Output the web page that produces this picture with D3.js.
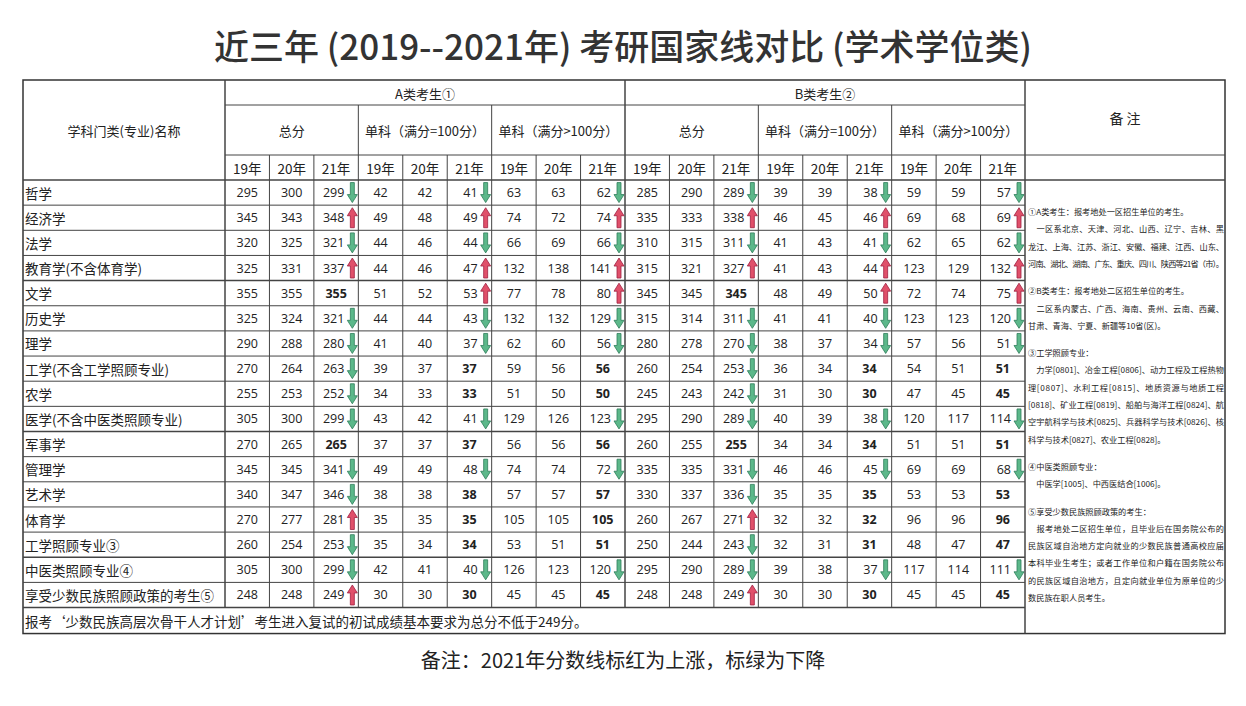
<!DOCTYPE html>
<html><head><meta charset="utf-8">
<script src="https://cdn.jsdelivr.net/npm/d3@7"></script>
<style>body{margin:0;background:#fff}</style></head>
<body><svg id="c" width="1246" height="706"></svg>
<script>
const categories=["哲学","经济学","法学","教育学(不含体育学)","文学","历史学","理学","工学(不含工学照顾专业)","农学","医学(不含中医类照顾专业)","军事学","管理学","艺术学","体育学","工学照顾专业③","中医类照顾专业④","享受少数民族照顾政策的考生⑤"];
const years=["19年","20年","21年"];
const aTotal=[[295,300,299],[345,343,348],[320,325,321],[325,331,337],[355,355,355],[325,324,321],[290,288,280],[270,264,263],[255,253,252],[305,300,299],[270,265,265],[345,345,341],[340,347,346],[270,277,281],[260,254,253],[305,300,299],[248,248,249]];
const aS100=[[42,42,41],[49,48,49],[44,46,44],[44,46,47],[51,52,53],[44,44,43],[41,40,37],[39,37,37],[34,33,33],[43,42,41],[37,37,37],[49,49,48],[38,38,38],[35,35,35],[35,34,34],[42,41,40],[30,30,30]];
const aSgt100=[[63,63,62],[74,72,74],[66,69,66],[132,138,141],[77,78,80],[132,132,129],[62,60,56],[59,56,56],[51,50,50],[129,126,123],[56,56,56],[74,74,72],[57,57,57],[105,105,105],[53,51,51],[126,123,120],[45,45,45]];
const bTotal=[[285,290,289],[335,333,338],[310,315,311],[315,321,327],[345,345,345],[315,314,311],[280,278,270],[260,254,253],[245,243,242],[295,290,289],[260,255,255],[335,335,331],[330,337,336],[260,267,271],[250,244,243],[295,290,289],[248,248,249]];
const bS100=[[39,39,38],[46,45,46],[41,43,41],[41,43,44],[48,49,50],[41,41,40],[38,37,34],[36,34,34],[31,30,30],[40,39,38],[34,34,34],[46,46,45],[35,35,35],[32,32,32],[32,31,31],[39,38,37],[30,30,30]];
const bSgt100=[[59,59,57],[69,68,69],[62,65,62],[123,129,132],[72,74,75],[123,123,120],[57,56,51],[54,51,51],[47,45,45],[120,117,114],[51,51,51],[69,69,68],[53,53,53],[96,96,96],[48,47,47],[117,114,111],[45,45,45]];
const groups=[aTotal,aS100,aSgt100,bTotal,bS100,bSgt100];
const groupLabels=["总分","单科（满分=100分）","单科（满分>100分）","总分","单科（满分=100分）","单科（满分>100分）"];
const classLabels=["A类考生①","B类考生②"];
const title="近三年 (2019--2021年) 考研国家线对比 (学术学位类)";
const footerRow="报考‘少数民族高层次骨干人才计划’考生进入复试的初试成绩基本要求为总分不低于249分。";
const bottomNote="备注：2021年分数线标红为上涨，标绿为下降";
// [text, kind]: 0 = short line, 1 = gap, 2 = full-width line
const notes=[["①A类考生：报考地处一区招生单位的考生。",0],["　一区系北京、天津、河北、山西、辽宁、吉林、黑",2],["龙江、上海、江苏、浙江、安徽、福建、江西、山东、",2],["河南、湖北、湖南、广东、重庆、四川、陕西等21省（市）。",2],["",1],["②B类考生：报考地处二区招生单位的考生。",0],["　二区系内蒙古、广西、海南、贵州、云南、西藏、",2],["甘肃、青海、宁夏、新疆等10省(区)。",0],["",1],["③工学照顾专业：",0],["　力学[0801]、冶金工程[0806]、动力工程及工程热物",2],["理[0807]、水利工程[0815]、地质资源与地质工程",2],["[0818]、矿业工程[0819]、船舶与海洋工程[0824]、航",2],["空宇航科学与技术[0825]、兵器科学与技术[0826]、核",2],["科学与技术[0827]、农业工程[0828]。",0],["",1],["④中医类照顾专业：",0],["　中医学[1005]、中西医结合[1006]。",0],["",1],["⑤享受少数民族照顾政策的考生：",0],["　报考地处二区招生单位，且毕业后在国务院公布的",2],["民族区域自治地方定向就业的少数民族普通高校应届",2],["本科毕业生考生；或者工作单位和户籍在国务院公布",2],["的民族区域自治地方，且定向就业单位为原单位的少",2],["数民族在职人员考生。",0]];

const svg=d3.select("#c");
const CJK="'Noto Sans CJK SC','Noto Sans',sans-serif";
const NUM="'Open Sans','Noto Sans',sans-serif";
const L=23,NAMER=225,R=1025,NR=1225;
const yTop=80,yH1=105,yH2=155,yH3=180,rowH=25.15;
const nCols=18;
const x=d3.scaleLinear().domain([0,nCols]).range([NAMER,R]);
const y=d3.scaleBand().domain(d3.range(categories.length)).range([yH3,yH3+rowH*categories.length]).padding(0);
const yEnd=yH3+rowH*categories.length, yFoot=yEnd+26;

svg.append("text").attr("x",623).attr("y",60).attr("text-anchor","middle").attr("font-family",CJK).attr("font-size",35).attr("font-weight",500).attr("fill","#333").text(title);

const g=svg.append("g");
function line(x1,y1,x2,y2,w){g.append("line").attr("x1",x1).attr("y1",y1).attr("x2",x2).attr("y2",y2).attr("stroke","#444").attr("stroke-width",w||1);}
function txt(xx,yy,t,o){const e=g.append("text").attr("x",xx).attr("y",yy).attr("text-anchor",o&&o.anchor||"middle").attr("dominant-baseline","central").attr("font-family",o&&o.font||CJK).attr("font-size",o&&o.size||13).attr("fill","#222").text(t);if(o&&o.bold)e.attr("font-weight","bold");return e;}

g.append("rect").attr("x",L).attr("y",yTop).attr("width",NR-L).attr("height",yFoot-yTop).attr("fill","none").attr("stroke","#333").attr("stroke-width",1.5);
line(NAMER,yH1,R,yH1);
line(NAMER,yH2,NR,yH2);
line(L,yH3,NR,yH3,1.5);
categories.forEach((c,i)=>{ if(i>0) line(L,y(i),R,y(i),(i===4||i===10||i===15)?1.5:1); });
line(L,yEnd,R,yEnd,1.5);
line(NAMER,yTop,NAMER,yFoot-26,1.5);
for(let k=1;k<nCols;k++){
  const top = k%9===0?yTop:(k%3===0?yH1:yH2);
  line(x(k),top,x(k),yEnd,k%9===0?1.5:1);
}
line(R,yTop,R,yFoot,1.5);

txt((L+NAMER)/2,130,"学科门类(专业)名称",{size:13});
classLabels.forEach((c,i)=>txt(x(i*9+4.5),93,c,{size:13}));
groupLabels.forEach((c,i)=>txt(x(i*3+1.5),130,c,{size:13}));
for(let k=0;k<nCols;k++) txt(x(k+0.5),168,years[k%3],{size:13.5});
txt((R+NR)/2,118,"备  注",{size:14});

function arrow(cx,cy,up){
  const w=10,h=20,sw=4;
  const pts= up?[[0,-h/2],[w/2,-h/2+8],[sw/2,-h/2+8],[sw/2,h/2],[-sw/2,h/2],[-sw/2,-h/2+8],[-w/2,-h/2+8]]
               :[[0,h/2],[w/2,h/2-8],[sw/2,h/2-8],[sw/2,-h/2],[-sw/2,-h/2],[-sw/2,h/2-8],[-w/2,h/2-8]];
  g.append("path").attr("d",d3.line()(pts.map(p=>[cx+p[0],cy+p[1]]))+"Z")
   .attr("fill",up?"#e0506a":"#5cb88a").attr("stroke",up?"#a02040":"#2e7d5a").attr("stroke-width",0.8);
}
categories.forEach((c,i)=>{
  const cy=y(i)+rowH/2;
  txt(L+2,cy,c,{anchor:"start",size:13.5});
  groups.forEach((gr,gi)=>{
    const v=gr[i];
    for(let j=0;j<3;j++){
      const col=gi*3+j;
      if(j<2){ txt(x(col+0.5),cy,v[j],{font:NUM,size:12.5}); }
      else{
        const d=v[2]-v[1];
        if(d===0){ txt(x(col+0.5),cy,v[2],{font:NUM,size:12.5,bold:true}); }
        else{ txt(x(col+1)-14,cy,v[2],{font:NUM,size:12.5,anchor:"end"}); arrow(x(col+1)-6,cy,d>0); }
      }
    }
  });
});
txt(L+2,yEnd+13,footerRow,{anchor:"start",size:13.5});

let ny=215;
notes.forEach(n=>{
  if(n[1]===1){ny+=10;return;}
  const t=g.append("text").attr("x",R+3).attr("y",ny).attr("font-family",CJK).attr("font-size",8.2).attr("fill","#222").text(n[0]);
  if(n[1]===2) t.attr("textLength",196).attr("lengthAdjust","spacing");
  ny+=17.3;
});
svg.append("text").attr("x",623).attr("y",668).attr("text-anchor","middle").attr("font-family",CJK).attr("font-size",20).attr("fill","#222").text(bottomNote);
</script></body></html>
